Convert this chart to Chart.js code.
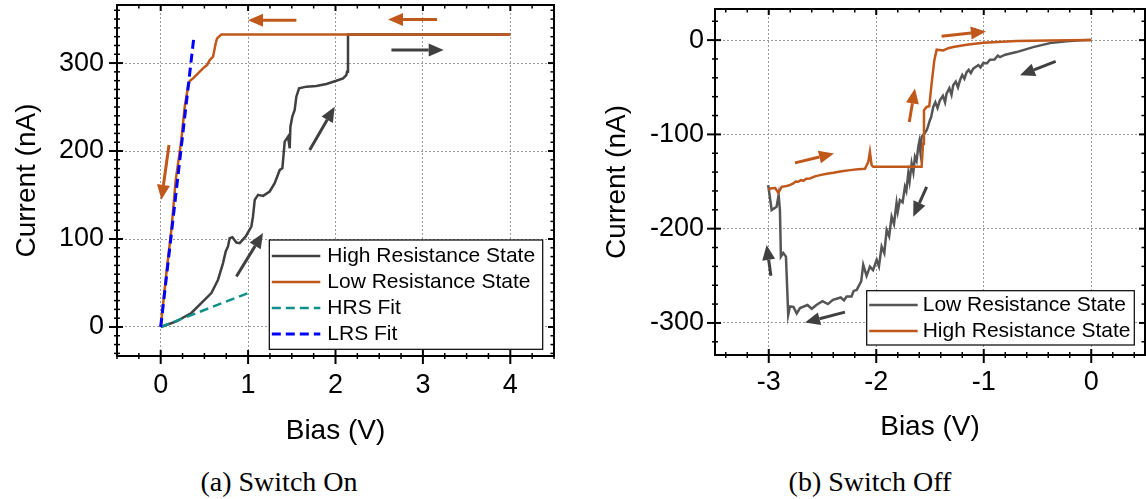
<!DOCTYPE html>
<html>
<head>
<meta charset="utf-8">
<script src="https://cdn.jsdelivr.net/npm/chart.js@4.4.1/dist/chart.umd.min.js"></script>
<style>
  html, body { margin: 0; padding: 0; background: #fff; overflow: hidden; }
  .panel { position: absolute; top: 0; width: 573px; height: 455px; }
  .caption { position: absolute; top: 466px; font-family: "Liberation Serif", "Times New Roman", serif;
             font-size: 28px; line-height: 32px; text-align: center; color: #000; }
</style>
</head>
<body>
<div class="panel" style="left:0"><canvas id="graficoOn"></canvas></div>
<div class="panel" style="left:573px"><canvas id="graficoOff"></canvas></div>
<div class="caption" style="left:0;width:558px">(a) Switch On</div>
<div class="caption" style="left:620px;width:500px">(b) Switch Off</div>
<script>
// Curvas I-V: encendido (a) y apagado (b)
const hrsOnV = [0, 0.179, 0.351, 0.484, 0.580, 0.656, 0.713, 0.744, 0.770, 0.789, 0.820, 0.866, 0.904, 0.973, 1.037, 1.056, 1.076, 1.114, 1.171, 1.247, 1.304, 1.362, 1.392, 1.419, 1.457, 1.476, 1.484, 1.506, 1.533, 1.552, 1.583, 1.667, 1.781, 1.896, 2.010, 2.086, 2.124, 2.132, 2.143, 4.0];
const hrsOnI = [0, 6.4, 15.9, 29.1, 38.6, 53.7, 72.6, 85.8, 91.5, 101, 102, 96, 95.3, 102.9, 114.2, 125.6, 144.5, 150.2, 149, 154, 163.4, 178.5, 180.4, 210.7, 216.4, 203.1, 227.7, 239.1, 246.6, 261.8, 271.2, 273.2, 273.9, 276.2, 279.9, 282.6, 286.4, 290.2, 332.5, 332.5];
const lrsOnV = [4.0, 0.694, 0.645, 0.629, 0.599, 0.561, 0.530, 0.484, 0.427, 0.370, 0.332, 0.313, 0.275, 0.236, 0.210, 0.172, 0.122, 0.065, 0];
const lrsOnI = [332.5, 332.5, 328, 322.3, 307.2, 303.4, 297.7, 294, 288.3, 282.6, 279.6, 273.2, 250.5, 212.6, 193.7, 167.2, 110.4, 61.3, 0];
const hrsFitV = [0, 1.0];
const hrsFitI = [0, 38.6];
const lrsFitV = [0, 0.38];
const lrsFitI = [0, 330];

const lrsOffV = [0, -0.1, -0.229, -0.384, -0.54, -0.695, -0.80, -0.849, -0.87, -0.90, -0.942, -0.97, -1.005, -1.03, -1.05, -1.098, -1.12, -1.14, -1.159, -1.18, -1.20, -1.221, -1.24, -1.26, -1.284, -1.30, -1.32, -1.346, -1.36, -1.38, -1.408, -1.43, -1.45, -1.47, -1.49, -1.501, -1.52, -1.531, -1.55, -1.578, -1.59, -1.60, -1.609, -1.625, -1.64, -1.655, -1.671, -1.69, -1.702, -1.72, -1.733, -1.755, -1.78, -1.80, -1.811, -1.835, -1.857, -1.88, -1.903, -1.925, -1.95, -1.975, -1.996, -2.03, -2.059, -2.09, -2.121, -2.14, -2.182, -2.21, -2.23, -2.275, -2.30, -2.33, -2.403, -2.45, -2.50, -2.554, -2.60, -2.64, -2.709, -2.74, -2.77, -2.803, -2.819, -2.828, -2.840, -2.865, -2.887, -2.896, -2.908, -2.927, -2.973, -3.005];
const lrsOffI = [0, -0.2, -1.1, -3.2, -7.4, -12.7, -15.5, -18.0, -16.5, -20.5, -20.7, -24.5, -24.3, -29, -26.5, -30.3, -35, -31.5, -33.9, -41, -37, -42.6, -50, -44, -47.9, -58, -51, -56.7, -66, -59, -63.8, -72, -66, -70.9, -82, -85, -92, -95.6, -99, -102.6, -118, -108, -113.2, -128, -123.8, -140, -130.8, -150, -141.4, -160, -155.6, -172, -169.6, -182, -172.8, -195, -187.3, -208, -201.4, -226, -219, -240, -233.1, -244, -240.2, -250, -238.4, -256, -264.9, -266, -272, -272, -276, -273, -275.4, -280, -277, -280.7, -285, -281, -284.2, -290, -283, -282.5, -291.3, -264.9, -229.6, -225.7, -229.6, -180.2, -164.3, -176.7, -180.2, -153.8];
const hrsOffV = [-3.005, -2.973, -2.94, -2.911, -2.88, -2.833, -2.80, -2.772, -2.75, -2.726, -2.70, -2.679, -2.65, -2.617, -2.57, -2.524, -2.46, -2.40, -2.32, -2.245, -2.17, -2.105, -2.074, -2.059, -2.043, -2.028, -1.587, -1.578, -1.565, -1.556, -1.531, -1.507, -1.485, -1.46, -1.438, -1.377, -1.33, -1.284, -1.159, -1.005, -0.694, -0.4, 0];
const hrsOffI = [-158.3, -157.2, -157, -161.9, -155.6, -154.8, -153.5, -152, -150, -150.3, -148.5, -149.2, -147, -146.7, -144.5, -143.2, -141.8, -140.7, -139, -137.9, -137, -136.5, -129.1, -118.5, -132.6, -134.4, -134.4, -134.4, -110, -74.4, -70.9, -70.2, -46.1, -21.5, -10.2, -10.9, -8.6, -7.4, -4.9, -2.8, -1.0, -0.3, 0];

// marcas de los ejes
const ticksOnX = [0, 1, 2, 3, 4];
const ticksOnY = [0, 100, 200, 300];
const ticksOffX = [-3, -2, -1, 0];
const ticksOffY = [-300, -200, -100, 0];

// flechas de sentido del barrido: [V inicio, I inicio, V fin, I fin, color]
const flechasOn = [
  [1.552, 348.8, 0.999, 348.8, 'nar'],
  [3.162, 349.6, 2.601, 349.6, 'nar'],
  [2.64, 314.8, 3.238, 314.8, 'gris'],
  [0.095, 206.9, 0.008, 144.5, 'nar'],
  [1.705, 201.2, 1.991, 250.4, 'gris'],
  [0.866, 57.4, 1.171, 106.7, 'gris']
];
const flechasOff = [
  [-1.392, 4.2, -0.98, 9.2, 'nar'],
  [-0.331, -22.5, -0.663, -37.4, 'gris'],
  [-1.693, -86.8, -1.64, -51.4, 'nar'],
  [-1.531, -155.6, -1.656, -187.3, 'gris'],
  [-2.756, -130.2, -2.393, -120.2, 'nar'],
  [-2.98, -250, -3.02, -217.2, 'gris'],
  [-2.291, -288.5, -2.663, -299.5, 'gris']
];

const NARANJA = '#c0581b';
const GRIS = '#404040';
const GRIS_OFF = '#555555';
const colores = { nar: NARANJA, gris: GRIS };

Chart.defaults.font.family = '"Liberation Sans", Arial, sans-serif';
Chart.defaults.color = '#000';

const puntos = (xs, ys) => xs.map((x, i) => ({ x: x, y: ys[i] }));

// Marco, marcas menores, flechas y leyenda dentro del área
const marco = {
  id: 'marco',
  afterDatasetsDraw(chart, args, o) {
    const ctx = chart.ctx;
    const { left, right, top, bottom } = chart.chartArea;
    const sx = chart.scales.x, sy = chart.scales.y;
    ctx.save();

    o.flechas.forEach(f => {
      const x0 = sx.getPixelForValue(f[0]), y0 = sy.getPixelForValue(f[1]);
      const x1 = sx.getPixelForValue(f[2]), y1 = sy.getPixelForValue(f[3]);
      const ang = Math.atan2(y1 - y0, x1 - x0);
      const largo = 15, ancho = 6.5;
      const bx = x1 - largo * Math.cos(ang), by = y1 - largo * Math.sin(ang);
      ctx.strokeStyle = ctx.fillStyle = colores[f[4]];
      ctx.lineWidth = 3;
      ctx.beginPath(); ctx.moveTo(x0, y0); ctx.lineTo(bx, by); ctx.stroke();
      ctx.beginPath();
      ctx.moveTo(x1, y1);
      ctx.lineTo(bx + ancho * Math.sin(ang), by - ancho * Math.cos(ang));
      ctx.lineTo(bx - ancho * Math.sin(ang), by + ancho * Math.cos(ang));
      ctx.closePath(); ctx.fill();
    });

    const L = o.leyenda;
    const lx = right - L.derecha - L.ancho, ly = bottom - L.abajo - L.alto;
    ctx.fillStyle = '#fff';
    ctx.fillRect(lx, ly, L.ancho, L.alto);
    ctx.strokeStyle = '#000'; ctx.lineWidth = 1.2;
    ctx.strokeRect(lx, ly, L.ancho, L.alto);
    ctx.font = '21px "Liberation Sans", Arial, sans-serif';
    ctx.textBaseline = 'middle';
    chart.data.datasets.forEach((ds, i) => {
      const yy = ly + L.primera + i * L.fila;
      ctx.strokeStyle = ds.borderColor; ctx.lineWidth = ds.borderWidth;
      ctx.setLineDash(ds.borderDash || []);
      ctx.beginPath(); ctx.moveTo(lx + 2.5, yy); ctx.lineTo(lx + 51, yy); ctx.stroke();
      ctx.setLineDash([]);
      ctx.fillStyle = '#000';
      ctx.fillText(ds.label, lx + L.texto, yy);
    });

    const menores = (s, paso, mayores) => {
      const out = [];
      for (let k = Math.ceil(s.min / paso - 1e-9); k * paso <= s.max + 1e-9; k++) {
        const v = +(k * paso).toFixed(6);
        if (!mayores.some(m => Math.abs(m - v) < 1e-6)) out.push(v);
      }
      return out;
    };
    const raya = (a, b, c, d, w) => { ctx.lineWidth = w; ctx.beginPath(); ctx.moveTo(a, b); ctx.lineTo(c, d); ctx.stroke(); };
    ctx.strokeStyle = '#000';
    o.xMarcas.forEach(v => {
      const p = sx.getPixelForValue(v);
      raya(p, bottom - 6, p, bottom + 8, 2); raya(p, top, p, top + 6, 2);
    });
    menores(sx, o.xPaso, o.xMarcas).forEach(v => {
      const p = sx.getPixelForValue(v);
      raya(p, bottom - 3, p, bottom + 3, 1.5); raya(p, top, p, top + 3.5, 1.5);
    });
    o.yMarcas.forEach(v => {
      const p = sy.getPixelForValue(v);
      raya(left - 8, p, left + 6, p, 2); raya(right - 6, p, right, p, 2);
    });
    menores(sy, o.yPaso, o.yMarcas).forEach(v => {
      const p = sy.getPixelForValue(v);
      raya(left - 3, p, left + 3, p, 1.5); raya(right - 3.5, p, right, p, 1.5);
    });
    ctx.lineWidth = 2;
    ctx.strokeRect(left, top, right - left, bottom - top);
    ctx.restore();
  }
};

// sin relleno extra de las etiquetas: el área queda donde la fija layout.padding
const sinRelleno = s => { s.paddingTop = s.paddingBottom = s.paddingLeft = s.paddingRight = 0; };

function ejes(c) {
  return {
    x: {
      type: 'linear', min: c.xMin, max: c.xMax,
      afterBuildTicks: s => { s.ticks = c.xTicks.map(v => ({ value: v })); },
      afterFit: s => { s.height = c.xAlto; sinRelleno(s); },
      ticks: { font: { size: 27 }, color: '#000', padding: c.xPad, maxRotation: 0, autoSkip: false },
      grid: { color: '#9a9a9a', lineWidth: 1, drawTicks: false },
      border: { display: false, dash: [2, 2] },
      title: { display: true, text: 'Bias (V)', font: { size: 28 }, color: '#000', padding: { top: 0, bottom: c.xTitPad } }
    },
    y: {
      type: 'linear', min: c.yMin, max: c.yMax,
      afterBuildTicks: s => { s.ticks = c.yTicks.map(v => ({ value: v })); },
      afterFit: s => { s.width = c.yAncho; sinRelleno(s); },
      ticks: { font: { size: 27 }, color: '#000', padding: c.yPad, autoSkip: false },
      grid: { color: '#9a9a9a', lineWidth: 1, drawTicks: false },
      border: { display: false, dash: [2, 2] },
      title: { display: true, text: 'Current (nA)', font: { size: 28 }, color: '#000', padding: { top: c.yTitPad, bottom: 0 } }
    }
  };
}

const linea = (label, data, color, orden, extra) => Object.assign({
  label: label, data: data, borderColor: color, borderWidth: 2.5,
  pointRadius: 0, fill: false, tension: 0, order: orden
}, extra || {});

new Chart(document.getElementById('graficoOn'), {
  type: 'line',
  data: {
    datasets: [
      linea('High Resistance State', puntos(hrsOnV, hrsOnI), GRIS, 4),
      linea('Low Resistance State', puntos(lrsOnV, lrsOnI), NARANJA, 2),
      linea('HRS Fit', puntos(hrsFitV, hrsFitI), '#0f918a', 3, { borderDash: [9, 5] }),
      linea('LRS Fit', puntos(lrsFitV, lrsFitI), '#0000ff', 1, { borderDash: [9, 5], borderWidth: 3 })
    ]
  },
  options: {
    animation: false, responsive: true, maintainAspectRatio: false,
    layout: { padding: { top: 5, right: 19, left: 0, bottom: 0 } },
    plugins: {
      legend: { display: false }, tooltip: { enabled: false },
      marco: {
        flechas: flechasOn, xMarcas: ticksOnX, yMarcas: ticksOnY, xPaso: 0.25, yPaso: 10,
        leyenda: { derecha: 11.3, abajo: 6.7, ancho: 273.4, alto: 109.3, primera: 16, fila: 26, texto: 58 }
      }
    },
    scales: ejes({ xMin: -0.5, xMax: 4.5, yMin: -33, yMax: 366, xTicks: ticksOnX, yTicks: ticksOnY,
                   xAlto: 99, yAncho: 117, xPad: 13, yPad: 13, xTitPad: 7, yTitPad: 10 })
  },
  plugins: [marco]
});

new Chart(document.getElementById('graficoOff'), {
  type: 'line',
  data: {
    datasets: [
      linea('Low Resistance State', puntos(lrsOffV, lrsOffI), GRIS_OFF, 2),
      linea('High Resistance State', puntos(hrsOffV, hrsOffI), NARANJA, 1)
    ]
  },
  options: {
    animation: false, responsive: true, maintainAspectRatio: false,
    layout: { padding: { top: 9, right: 1, left: 0, bottom: 0 } },
    plugins: {
      legend: { display: false }, tooltip: { enabled: false },
      marco: {
        flechas: flechasOff, xMarcas: ticksOffX, yMarcas: ticksOffY, xPaso: 0.2, yPaso: 20,
        leyenda: { derecha: 10.7, abajo: 10, ancho: 267.6, alto: 54.3, primera: 14.3, fila: 26, texto: 56 }
      }
    },
    scales: ejes({ xMin: -3.5, xMax: 0.5, yMin: -334, yMax: 33, xTicks: ticksOffX, yTicks: ticksOffY,
                   xAlto: 100, yAncho: 142, xPad: 11, yPad: 11, xTitPad: 11, yTitPad: 27 })
  },
  plugins: [marco]
});
</script>
</body>
</html>
